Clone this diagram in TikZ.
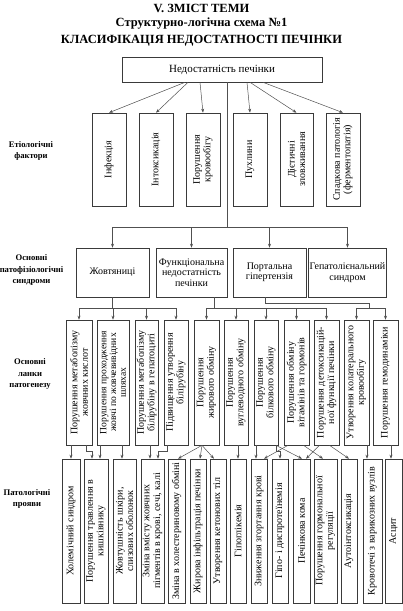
\documentclass[tikz,border=0pt]{standalone}
\usepackage{fontspec}
\setmainfont{Liberation Serif}
\usepackage{tikz}
\usetikzlibrary{arrows.meta,positioning,calc}
\definecolor{Frame}{HTML}{3A3A3A}
\definecolor{Wire}{HTML}{505050}
\tikzset{
    every node/.style={font=\fontsize{10}{10.5}\selectfont},
    heading/.style={font=\fontsize{12.5}{14}\selectfont\bfseries},
    rowlabel/.style={font=\fontsize{8.6}{11.5}\selectfont\bfseries, align=center, inner sep=0pt},
    hbox/.style={
        draw=Frame, line width=0.6pt, align=center,
        minimum width=#1, minimum height=49, inner sep=1pt
    },
    vbox/.style 2 args={
        draw=Frame, line width=0.6pt, align=center, rotate=90,
        minimum width=#1, minimum height=#2, inner sep=0.5pt
    },
    wire/.style={draw=Wire, line width=0.5pt},
    arr/.style={wire, -{Stealth[length=4pt,width=3pt]}},
}
\begin{document}
\begin{tikzpicture}[x=1pt, y=-1pt]
    \useasboundingbox (0,0) rectangle (403,611);

    % Heading
    \node[heading] (h1) at (201.5,8.5) {V. ЗМІСТ ТЕМИ};
    \node[heading] (h2) at (201.5,23.5) {Структурно-логічна схема №1};
    \node[heading] (h3) at (201.5,40.5) {КЛАСИФІКАЦІЯ НЕДОСТАТНОСТІ ПЕЧІНКИ};

    % Root box
    \node[hbox=200, minimum height=25, font=\fontsize{11}{12}\selectfont] (root) at (222,69.5) {Недостатність печінки};

    % Row labels
    \node[rowlabel] (lab1) at (31,151) {Етіологічні\\фактори};
    \node[rowlabel] (lab2) at (31.5,270) {Основні\\патофізіологічні\\синдроми};
    \node[rowlabel] (lab3) at (30,374) {Основні\\ланки\\патогенезу};
    \node[rowlabel] (lab4) at (27,499) {Патологічні\\прояви};

    % Etiological factors
    \node[vbox={93}{34}] (inf) at (109,159.5) {Інфекція};
    \node[vbox={93}{34}] (intox) at (156,159.5) {Інтоксикація};
    \node[vbox={93}{34}] (blood) at (203,159.5) {Порушення\\кровообігу};
    \node[vbox={93}{34}] (tumor) at (250,159.5) {Пухлини};
    \node[vbox={93}{33}] (diet) at (296.5,159.5) {Дієтичні\\зловживання};
    \node[vbox={93}{34}] (hered) at (343,159.5) {Спадкова патологія\\(ферментопатія)};

    \foreach \dx/\dst in {-37/inf, -34/intox, -22/blood, 25/tumor, 28/diet, 41/hered}
        \draw[arr] ([xshift=\dx pt]root.south) -- (\dst.east);

    % Syndromes
    \node[hbox=73] (jaund) at (112.5,272.5) {Жовтяниці};
    \node[hbox=71] (func) at (191.5,272.5) {Функціональна\\недостатність\\печінки};
    \node[hbox=73] (portal) at (269.5,272.5) {Портальна\\гіпертензія};
    \node[hbox=71] (hepat) at (347.5,272.5) {Гепатолієнальний\\синдром};

    \coordinate (sbus) at (227,227);
    \draw[wire] (root.south -| sbus) -- (sbus);
    \draw[wire] (jaund.north |- sbus) -- (hepat.north |- sbus);
    \foreach \n in {jaund,func,portal,hepat}
        \draw[arr] (\n.north |- sbus) -- (\n.north);

    % Pathogenesis links
    \node[vbox={125}{26}] (l1) at (79,382.5) {Порушення метаболізму\\жовчних кислот};
    \node[vbox={125}{32}, font=\fontsize{9.6}{9.8}\selectfont] (l2) at (113,382.5) {Порушення проходження\\жовчі по жовчевивідних\\шляхах};
    \node[vbox={125}{23}] (l3) at (146.5,382.5) {Порушення метаболізму\\білірубіну в гепатоциті};
    \node[vbox={125}{24}] (l4) at (176,382.5) {Підвищення утворення\\білірубіну};
    \node[vbox={125}{25}] (l5) at (206.5,382.5) {Порушення\\жирового обміну};
    \node[vbox={125}{24}] (l6) at (236,382.5) {Порушення\\вуглеводного обміну};
    \node[vbox={125}{24}] (l7) at (266,382.5) {Порушення\\білкового обміну};
    \node[vbox={125}{25}] (l8) at (296.5,382.5) {Порушення обміну\\вітамінів та гормонів};
    \node[vbox={125}{25}] (l9) at (326.5,382.5) {Порушення детоксикацій-\\ної функції печінки};
    \node[vbox={125}{25}] (l10) at (356.5,382.5) {Утворення колатерального\\кровообігу};
    \node[vbox={125}{25}] (l11) at (385.5,382.5) {Порушення гемодинаміки};

    % jaundice branch
    \draw[wire] (jaund.south) -- ++(0,11) coordinate (jbus);
    \draw[wire] (l1.east |- jbus) -- (l4.east |- jbus);
    \foreach \n in {l1,l2,l3,l4}
        \draw[arr] (\n.east |- jbus) -- (\n.east);

    % functional branch
    \draw[wire] ([xshift=22.5pt]func.south) -- ++(0,11) coordinate (fbus);
    \draw[wire] (l5.east |- fbus) -- (l9.east |- fbus);
    \foreach \n in {l5,l6,l7,l8,l9}
        \draw[arr] (\n.east |- fbus) -- (\n.east);

    % portal branch
    \coordinate (pbus) at (369,308);
    \draw[wire] ([xshift=-4.5pt]portal.south) -- ++(0,6) -| (pbus);
    \draw[wire] (l10.east |- pbus) -- (l11.east |- pbus);
    \foreach \n in {l10,l11}
        \draw[arr] (\n.east |- pbus) -- (\n.east);

    % Manifestations
    \node[vbox={144}{18}] (m1) at (71,531) {Холемічний синдром};
    \node[vbox={144}{24}] (m2) at (96,531) {Порушення травлення в\\кишківнику};
    \node[vbox={144}{23}] (m3) at (124.5,531) {Жовтушність шкіри,\\слизових оболонок};
    \node[vbox={144}{23}] (m4) at (152.5,531) {Зміна вмісту жовчних\\пігментів в крові, сечі, калі};
    \node[vbox={144}{17}] (m5) at (176.5,531) {Зміна в холестериновому обміні};
    \node[vbox={144}{16}] (m6) at (198,531) {Жирова інфільтрація печінки};
    \node[vbox={144}{16}] (m7) at (218,531) {Утворення кетонових тіл};
    \node[vbox={144}{16}] (m8) at (238,531) {Гіпоглікемія};
    \node[vbox={144}{16}] (m9) at (259,531) {Зниження згортання крові};
    \node[vbox={144}{16}] (m10) at (280,531) {Гіпо- і диспротеїнемія};
    \node[vbox={144}{17}] (m11) at (301.5,531) {Печінкова кома};
    \node[vbox={144}{23}] (m12) at (325.5,531) {Порушення гормональної\\регуляції};
    \node[vbox={144}{16}] (m13) at (349,531) {Аутоінтоксикація};
    \node[vbox={144}{19}] (m14) at (372.5,531) {Кровотечі з варикозних вузлів};
    \node[vbox={144}{17}] (m15) at (393.5,531) {Асцит};

    % links -> manifestations
    \draw[arr] (l1.west) ++(-8,0) -- (m1.east);
    \draw[arr] (l1.west) ++(7,0) -- ++(0,6) -| ([xshift=-4pt]m2.east);
    \draw[arr] (l2.west) ++(-13,0) -- ([xshift=4pt]m2.east);
    \draw[arr] (l2.west) ++(9,0) -- ([xshift=-2.5pt]m3.east);
    \draw[arr] (l3.west) ++(3.5,0) -- ([xshift=-2.5pt]m4.east);
    \draw[arr] (l4.west) ++(-9,0) -- ++(0,6) -| ([xshift=5.5pt]m4.east);
    \draw[arr] (l5.west) ++(-4.5,0) -- ([xshift=1.5pt]m5.east);
    \draw[arr] (l5.west) ++(-4.5,0) -- ([xshift=2pt]m6.east);
    \draw[arr] (l5.west) ++(-4.5,0) -- ([xshift=-4pt]m7.east);
    \draw[arr] (l6.west) ++(2,0) -- (m8.east);
    \draw[arr] (l7.west) ++(-10,0) -- ([xshift=-3pt]m9.east);
    \draw[arr] (l8.west) ++(-8.5,0) -- ([xshift=5pt]m9.east);
    \draw[arr] (l7.west) ++(10,0) -- ++(0,6) -| (m10.east);
    \draw[arr] (l7.west) ++(10,0) -- ([xshift=0.5pt]m11.east);
    \draw[arr] (l9.west) ++(-7,0) -- ([xshift=4.5pt]m11.east);
    \draw[arr] (l8.west) ++(7,0) -- ([xshift=-2.5pt]m12.east);
    \draw[arr] (l9.west) ++(3,0) -- (m13.east);
    \draw[arr] (l10.west) ++(10.5,0) -- ([xshift=-5.5pt]m14.east);
    \draw[arr] (l11.west) ++(5.5,0) -- ([xshift=-2.5pt]m15.east);
\end{tikzpicture}
\end{document}
